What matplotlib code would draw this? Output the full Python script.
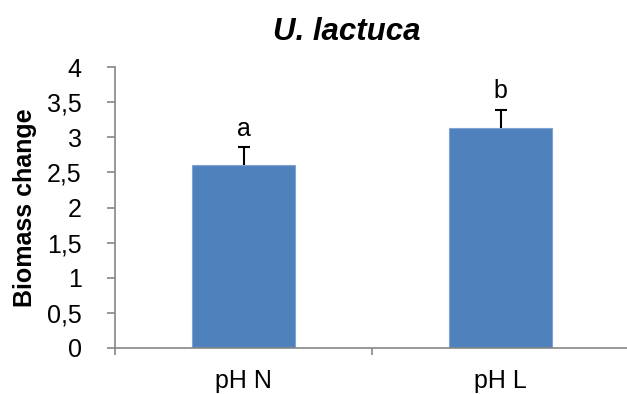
import numpy as np
import matplotlib.pyplot as plt
from matplotlib.ticker import FuncFormatter

plt.rcParams['font.family'] = ['Liberation Sans', 'DejaVu Sans']

categories = ['pH N', 'pH L']
means = [2.60, 3.13]
errors = [0.265, 0.265]
letters = ['a', 'b']

fig = plt.figure(figsize=(6.27, 3.94), dpi=100)
ax = fig.add_axes([0.1834, 0.1168, 0.82, 0.713])

x = np.arange(len(categories))
ax.bar(x, means, width=0.4, color='#4F81BD', edgecolor='#7FA3D3', linewidth=0.8, zorder=2)
eb = ax.errorbar(x, means, yerr=[[0] * len(errors), errors], fmt='none', ecolor='black',
                 elinewidth=1.5, capsize=4, capthick=1.5, zorder=3)
eb[1][0].set_visible(False)  # no cap on the lower side
for xi, m, e, lab in zip(x, means, errors, letters):
    ax.text(xi, m + e + 0.16, lab, ha='center', va='baseline', fontsize=18)

ax.set_xlim(-0.5, 1.5)
ax.set_ylim(0, 4)
ax.set_yticks(np.arange(0, 4.01, 0.5))
ax.yaxis.set_major_formatter(FuncFormatter(lambda v, p: f'{v:g}'.replace('.', ',')))

ax.set_xticks([-0.5, 0.5, 1.5])
ax.set_xticklabels([])
ax.set_xticks(x, minor=True)
ax.set_xticklabels(categories, minor=True)
ax.tick_params(axis='x', which='minor', length=0, labelsize=18, pad=15)
ax.tick_params(axis='x', which='major', length=5, color='#868686', width=1.2)
ax.tick_params(axis='y', length=6, color='#868686', width=1.2, labelsize=18, pad=18)

for s in ['top', 'right']:
    ax.spines[s].set_visible(False)
for s in ['left', 'bottom']:
    ax.spines[s].set_color('#868686')
    ax.spines[s].set_linewidth(1.2)

ax.set_ylabel('Biomass change', fontsize=18, fontweight='bold', labelpad=7)
fig.text(347 / 627, 1 - 40 / 394, 'U. lactuca', fontsize=22.5, fontweight='bold',
         fontstyle='italic', ha='center', va='baseline')

fig.savefig('out.png', dpi=100)
